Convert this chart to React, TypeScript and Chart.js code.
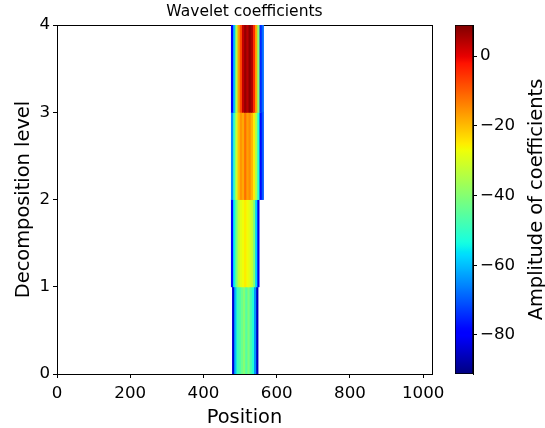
import { useEffect, useRef } from 'react';
import { Chart, registerables } from 'chart.js';

Chart.register(...registerables);

// ---- data ----
const levelStarts = [478, 475, 475, 475];
const binWidth = 6;
const level0Values = [-84, -60, -49, -47, -43, -40, -46, -41, -47, -52, -64, -86];
const level1Values = [-78, -55, -42, -33, -29, -27, -25, -27, -29, -32, -40, -58, -82];
const level2Values = [-65, -50, -32, -21, -16, -18, -12, -17, -15, -19, -25, -35, -52, -78, -70];
const level3Values = [-80, -60, -35, -17, -8, 3, 7, 4, 8, 5, -5, -18, -40, -75, -68];
const levelValues = [level0Values, level1Values, level2Values, level3Values];
const colorMin = -91.2;
const colorMax = 8.9;
const xMax = 1024;
const yMax = 4;
const xTickValues = [0, 200, 400, 600, 800, 1000];
const yTickValues = [0, 1, 2, 3, 4];
const colorTickValues = [-80, -60, -40, -20, 0];

const FONT = "'DejaVu Sans', sans-serif";
const FS = 16.67;
const LABEL_FS = 19.4;

const jetR = [[0, 0], [0.35, 0], [0.66, 1], [0.89, 1], [1, 0.5]];
const jetG = [[0, 0], [0.125, 0], [0.375, 1], [0.64, 1], [0.91, 0], [1, 0]];
const jetB = [[0, 0.5], [0.11, 1], [0.34, 1], [0.65, 0], [1, 0]];

function interp(points: number[][], t: number) {
  for (let i = 1; i < points.length; i++) {
    if (t <= points[i][0]) {
      const [t0, v0] = points[i - 1];
      const [t1, v1] = points[i];
      return v0 + ((v1 - v0) * (t - t0)) / (t1 - t0);
    }
  }
  return points[points.length - 1][1];
}

function jet(t: number) {
  const c = Math.max(0, Math.min(1, t));
  const r = Math.round(255 * interp(jetR, c));
  const g = Math.round(255 * interp(jetG, c));
  const b = Math.round(255 * interp(jetB, c));
  return `rgb(${r},${g},${b})`;
}

function norm(v: number) {
  return (v - colorMin) / (colorMax - colorMin);
}

function fmt(v: number) {
  return v < 0 ? '\u2212' + Math.abs(v) : String(v);
}

function fixedTicks(values: number[]) {
  return (s: any) => {
    s.ticks = values.map((v) => ({ value: v }));
  };
}

const colorbarLabel = {
  id: 'colorbarLabel',
  afterDraw(chart: any) {
    const { ctx, chartArea } = chart;
    ctx.save();
    ctx.translate(chart.width - 8, (chartArea.top + chartArea.bottom) / 2);
    ctx.rotate(-Math.PI / 2);
    ctx.font = `${LABEL_FS}px ${FONT}`;
    ctx.fillStyle = '#000';
    ctx.textAlign = 'center';
    ctx.textBaseline = 'middle';
    ctx.fillText('Amplitude of coefficients', 0, 0);
    ctx.restore();
  },
};

export default function App() {
  const mainRef = useRef<HTMLCanvasElement>(null);
  const cbRef = useRef<HTMLCanvasElement>(null);

  useEffect(() => {
    Chart.defaults.font.family = FONT;
    Chart.defaults.font.size = FS;
    Chart.defaults.color = '#000';

    const cells: any[] = [];
    const colors: string[] = [];
    levelValues.forEach((vals, lv) => {
      vals.forEach((v, i) => {
        const x0 = levelStarts[lv] + i * binWidth;
        const x1 = x0 + binWidth + (i < vals.length - 1 ? binWidth * 0.5 : 0);
        cells.push({ y: lv + 0.5, x: [x0, x1] });
        colors.push(jet(norm(v)));
      });
    });

    const axisGrid = { display: true, drawOnChartArea: false, drawTicks: true, tickLength: 4, color: '#000', lineWidth: 1, offset: false };
    const border = { display: true, color: '#000', width: 1 };

    const main = new Chart(mainRef.current!, {
      type: 'bar',
      data: {
        datasets: [
          {
            data: cells,
            backgroundColor: colors,
            borderWidth: 0,
            barPercentage: 1.01,
            categoryPercentage: 1,
            grouped: false,
          } as any,
        ],
      },
      options: {
        indexAxis: 'y',
        animation: false,
        responsive: false,
        events: [],
        layout: { padding: { left: 0, right: 113, top: 0, bottom: 0 } },
        plugins: {
          legend: { display: false },
          tooltip: { enabled: false },
          title: {
            display: true,
            text: 'Wavelet coefficients',
            fullSize: false,
            color: '#000',
            font: { family: FONT, size: 15.5, weight: 'normal' },
            padding: { top: 3, bottom: 3.4 },
          },
        },
        scales: {
          x: {
            type: 'linear',
            position: 'bottom',
            min: 0,
            max: xMax,
            offset: false,
            ticks: { padding: 6, color: '#000', maxRotation: 0, autoSkip: false, callback: (v: any) => fmt(Number(v)) },
            afterBuildTicks: fixedTicks(xTickValues),
            grid: axisGrid,
            border,
            title: { display: true, text: 'Position', color: '#000', font: { size: LABEL_FS }, padding: { top: 0, bottom: -2 } },
            afterFit: (s: any) => { s.height = 54; },
          },
          y: {
            type: 'linear',
            position: 'left',
            min: 0,
            max: yMax,
            offset: false,
            ticks: { padding: 3, color: '#000', autoSkip: false, callback: (v: any) => fmt(Number(v)) },
            afterBuildTicks: fixedTicks(yTickValues),
            grid: axisGrid,
            border,
            title: { display: true, text: 'Decomposition level', color: '#000', font: { size: LABEL_FS }, padding: { top: 12, bottom: 0 } },
            afterFit: (s: any) => { s.width = 57; },
          },
          x2: {
            type: 'linear',
            position: 'top',
            min: 0,
            max: xMax,
            display: true,
            ticks: { display: false },
            grid: { display: false },
            border,
            afterFit: (s: any) => { s.height = 0; },
          },
          y2: {
            type: 'linear',
            position: 'right',
            min: 0,
            max: yMax,
            display: true,
            ticks: { display: false },
            grid: { display: false },
            border,
            afterFit: (s: any) => { s.width = 0; },
          },
        },
      } as any,
    });

    const cb = new Chart(cbRef.current!, {
      type: 'bar',
      data: {
        labels: [''],
        datasets: [
          {
            data: [[colorMin, colorMax]],
            backgroundColor: (ctx: any) => {
              const chart = ctx.chart;
              if (!chart.chartArea) return 'transparent';
              const ys = chart.scales.y;
              const g = chart.ctx.createLinearGradient(0, ys.getPixelForValue(colorMin), 0, ys.getPixelForValue(colorMax));
              for (let i = 0; i <= 100; i++) g.addColorStop(i / 100, jet(i / 100));
              return g;
            },
            borderColor: '#000',
            borderWidth: 1,
            borderSkipped: false,
            barPercentage: 1,
            categoryPercentage: 1,
          } as any,
        ],
      },
      options: {
        animation: false,
        responsive: false,
        events: [],
        layout: { padding: { left: 15, right: 0, top: 25, bottom: 54 } },
        plugins: { legend: { display: false }, tooltip: { enabled: false } },
        scales: {
          x: { display: false },
          y: {
            type: 'linear',
            position: 'right',
            min: colorMin,
            max: colorMax,
            ticks: { padding: 3, color: '#000', autoSkip: false, callback: (v: any) => fmt(Number(v)) },
            afterBuildTicks: fixedTicks(colorTickValues),
            grid: axisGrid,
            border,
            afterFit: (s: any) => { s.width = 72; },
          },
        },
      } as any,
      plugins: [colorbarLabel],
    });

    return () => {
      main.destroy();
      cb.destroy();
    };
  }, []);

  return (
    <div style={{ position: 'fixed', left: 0, top: 0, width: 545, height: 428, background: '#fff' }}>
      <canvas ref={mainRef} width={545} height={428} style={{ position: 'absolute', left: 0, top: 0 }} />
      <canvas ref={cbRef} width={105} height={428} style={{ position: 'absolute', left: 440, top: 0 }} />
    </div>
  );
}
